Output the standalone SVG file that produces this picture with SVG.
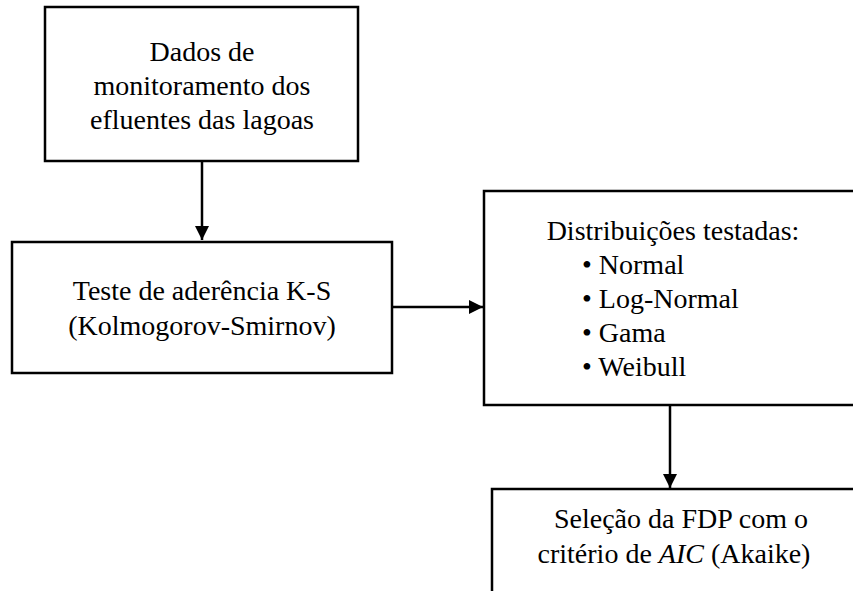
<svg xmlns="http://www.w3.org/2000/svg" width="853" height="591" viewBox="0 0 853 591">
<style>
.box{fill:#fff;stroke:#000;stroke-width:2.5}
.c{stroke:#000;stroke-width:2.5;fill:none}
</style>
<defs>
<marker id="ah" markerWidth="14" markerHeight="14" refX="14" refY="7" orient="auto" markerUnits="userSpaceOnUse">
<path d="M0,0 L14,7 L0,14 Z" fill="#000"/>
</marker>
</defs>
<rect width="853" height="591" fill="#fff"/>
<g id="connectors">
<line class="c" x1="202" y1="161" x2="202" y2="240" marker-end="url(#ah)"/>
<line class="c" x1="392" y1="307" x2="483" y2="307" marker-end="url(#ah)"/>
<line class="c" x1="670" y1="405" x2="670" y2="488" marker-end="url(#ah)"/>
</g>
<g font-family="Liberation Serif, Times New Roman, DejaVu Serif, serif" font-size="28" fill="#000">
<g id="n1" text-anchor="middle">
<rect class="box" x="45" y="7" width="313" height="154"/>
<text x="202" y="61">Dados de</text>
<text x="202" y="95">monitoramento dos</text>
<text x="202" y="129">efluentes das lagoas</text>
</g>
<g id="n2" text-anchor="middle">
<rect class="box" x="12" y="242" width="380" height="131"/>
<text x="202" y="300">Teste de aderência K-S</text>
<text x="202" y="335">(Kolmogorov-Smirnov)</text>
</g>
<g id="n3">
<rect class="box" x="484" y="191" width="380" height="214"/>
<text x="673" y="240" text-anchor="middle">Distribuições testadas:</text>
<text x="582" y="274">• Normal</text>
<text x="582" y="308">• Log-Normal</text>
<text x="582" y="342">• Gama</text>
<text x="582" y="376">• Weibull</text>
</g>
<g id="n4" text-anchor="middle">
<rect class="box" x="492" y="489" width="380" height="120"/>
<text x="681" y="528">Seleção da FDP com o</text>
<text x="674" y="563">critério de <tspan font-style="italic">AIC</tspan> (Akaike)</text>
</g>
</g>
</svg>
